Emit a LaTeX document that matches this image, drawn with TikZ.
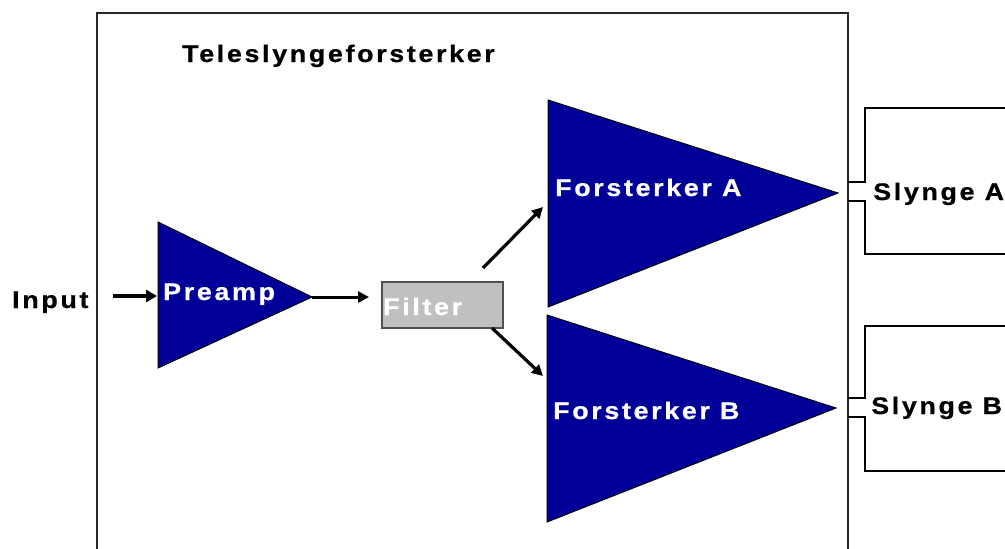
\documentclass[tikz,border=0pt]{standalone}
\usepackage{fontspec}
\newfontfamily\lblfont{Liberation Sans Bold}[LetterSpace=11, FakeStretch=1.12, FakeBold=0.6]
\usetikzlibrary{arrows.meta}
\definecolor{ampblue}{RGB}{0,0,153}
\definecolor{filtgray}{RGB}{192,192,192}
\definecolor{filtedge}{RGB}{80,80,80}
\definecolor{framegray}{RGB}{40,40,40}
\tikzset{
  amp/.style={fill=ampblue},
  ampedge/.style={draw=black, line width=1pt, line join=miter},
  lbl/.style={inner sep=0pt, anchor=base west, font=\fontsize{24}{28}\lblfont},
  wlbl/.style={lbl, text=white},
  conn/.style={line width=3.2pt, -{Triangle[length=11pt,width=11pt]}},
  loopline/.style={line width=2.4pt, line join=miter},
  frameline/.style={draw=framegray, line width=2pt}
}
\begin{document}
\begin{tikzpicture}[x=1pt,y=-1pt]
\useasboundingbox (0,0) rectangle (1005,549);
\clip (0,0) rectangle (1005,549);
% outer frame
\draw[frameline] (97,560) |- (848,12.5) -- (848,560);
% coordinates of amplifier triangles
\coordinate (pT) at (158,222); \coordinate (pB) at (158,368); \coordinate (pO) at (312,297);
\coordinate (aT) at (548,100); \coordinate (aB) at (548,307); \coordinate (aO) at (838,193);
\coordinate (bT) at (547,315); \coordinate (bB) at (547,522); \coordinate (bO) at (836,408);
\fill[amp] (pT) -- (pO) -- (pB) -- cycle;
\fill[amp] (aT) -- (aO) -- (aB) -- cycle;
\fill[amp] (bT) -- (bO) -- (bB) -- cycle;
\draw[ampedge] (pT) -- (pO) -- (pB) -- cycle;
\draw[ampedge] (aT) -- (aO) -- (aB) -- cycle;
\draw[ampedge] (bT) -- (bO) -- (bB) -- cycle;
% filter box
\node[draw=filtedge, fill=filtgray, line width=2pt, minimum width=121pt, minimum height=46pt, inner sep=0pt, anchor=north west] (filter) at (381,281) {};
% texts
\node[lbl] (title) at (182,62) {Teleslyngeforsterker};
\node[lbl] (input) at (12,308) {Input};
\node[wlbl] (preamp) at (163,300) {Preamp};
\node[wlbl] (filtertxt) at (383,315) {Filter};
\node[wlbl] (fa) at (555,196) {Forsterker A};
\node[wlbl] (fb) at (553,419) {Forsterker B};
\node[lbl] (sa) at (873,200) {Slynge A};
\node[lbl] (sb) at (871,414) {Slynge B};
% connectors
\coordinate (inS) at (113,296); \coordinate (inE) at (157,296);
\coordinate (pfE) at (369,297);
\coordinate (uS) at (483,268); \coordinate (uE) at (543,207);
\coordinate (lS) at (492,328); \coordinate (lE) at (543,376);
\draw[line width=4pt, -{Triangle[length=11pt,width=12pt]}] (inS) -- (inE);
\draw[line width=3pt, -{Triangle[length=11pt,width=11pt]}] (pO) -- (pfE);
\draw[conn] (uS) -- (uE);
\draw[conn] (lS) -- (lE);
% loop brackets
\draw[loopline] (848,182) -- (865,182) -- (865,108) -- (1015,108);
\draw[loopline] (848,201) -- (865,201) -- (865,254) -- (1015,254);
\draw[loopline] (848,398) -- (865,398) -- (865,326) -- (1015,326);
\draw[loopline] (848,417) -- (865,417) -- (865,471) -- (1015,471);
\end{tikzpicture}
\end{document}
